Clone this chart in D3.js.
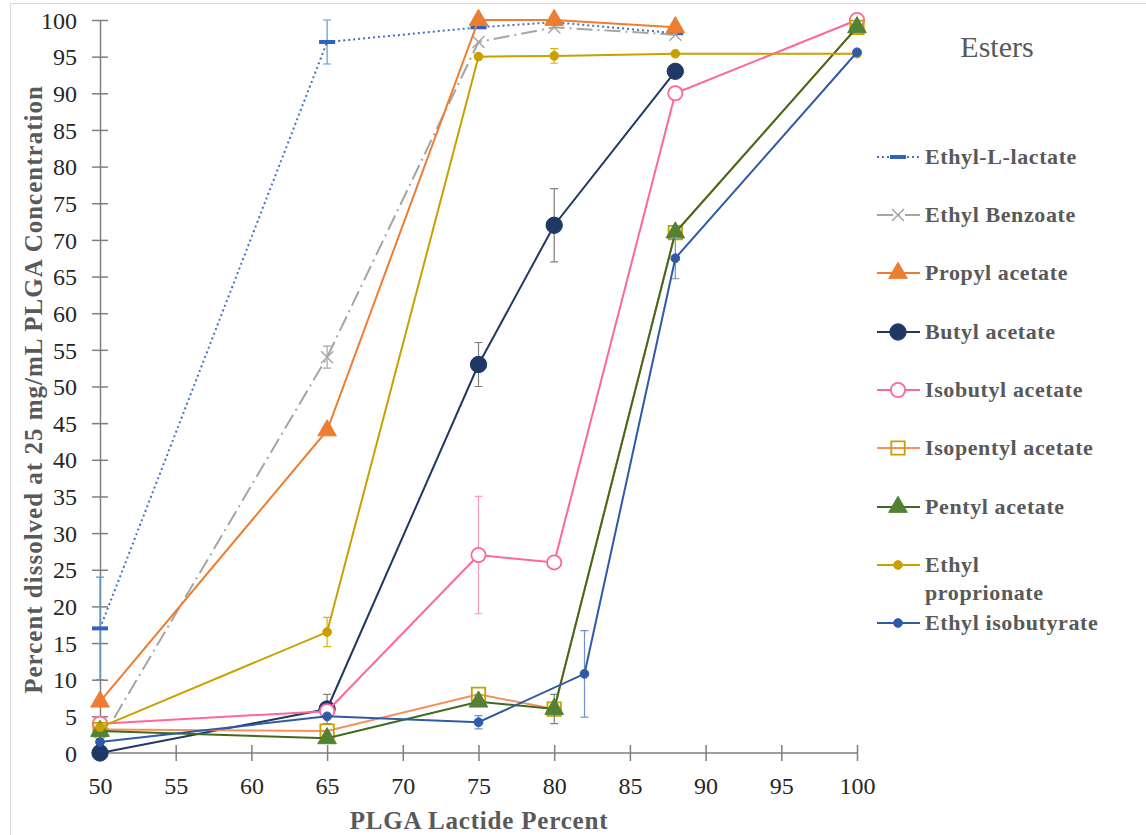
<!DOCTYPE html>
<html>
<head>
<meta charset="utf-8">
<script src="https://cdn.jsdelivr.net/npm/d3@7"></script>
<style>
  body { margin: 0; background: #fff; }
  svg { display: block; }
</style>
</head>
<body>
<div id="chart"></div>
<script>
// values
const seriesNames = ["Ethyl-L-lactate", "Ethyl Benzoate", "Propyl acetate", "Butyl acetate",
  "Isobutyl acetate", "Isopentyl acetate", "Pentyl acetate", "Ethyl proprionate", "Ethyl isobutyrate"];

const lactateX = [50, 65, 75, 80, 88];
const lactateY = [17, 97, 99, 99.7, 98.2];
const lactateErr = [7, 3, null, null, null];

const benzoateX = [50, 65, 75, 80, 88];
const benzoateY = [1.5, 54, 97, 99, 98];
const benzoateErr = [null, 1.5, null, null, null];

const propylX = [50, 65, 75, 80, 88];
const propylY = [7, 44, 100, 100, 99];
const propylErr = [null, null, null, 0.5, null];

const butylX = [50, 65, 75, 80, 88];
const butylY = [0, 6, 53, 72, 93];
const butylErr = [null, 2, 3, 5, null];

const isobutylX = [50, 65, 75, 80, 88, 100];
const isobutylY = [4, 5.7, 27, 26, 90, 100];
const isobutylErr = [1, null, 8, null, null, null];

const isopentylX = [50, 65, 75, 80, 88, 100];
const isopentylY = [3.2, 3, 8, 6, 71, 99];
const isopentylErr = [null, null, null, null, null, null];

const pentylX = [50, 65, 75, 80, 88, 100];
const pentylY = [3, 2, 7, 6, 71, 99];
const pentylErr = [null, null, null, 2, null, null];

const propionateX = [50, 65, 75, 80, 88, 100];
const propionateY = [3.5, 16.5, 95, 95.1, 95.4, 95.4];
const propionateErr = [null, 2, null, 1, null, null];

const isobutyrateX = [50, 65, 75, 82, 88, 100];
const isobutyrateY = [1.5, 5, 4.2, 10.8, 67.5, 95.6];
const isobutyrateErr = [null, null, 0.9, 5.9, 2.8, null];

const xTicks = [50, 55, 60, 65, 70, 75, 80, 85, 90, 95, 100];
const yTicks = d3.range(0, 101, 5);

// styles per series (kept apart from the data)
const styles = [
  {line: "#4472c4", dash: "2,3", marker: "dash", fill: "#3162c0", stroke: "#3162c0", err: "#5b9bd5"},
  {line: "#a5a5a5", dash: "16,5,2,5", marker: "x", fill: "none", stroke: "#a5a5a5", err: "#a5a5a5"},
  {line: "#ed7d31", dash: null, marker: "triangle", fill: "#ed7d31", stroke: "#ed7d31", err: "#4472c4", size: 150},
  {line: "#203864", dash: null, marker: "circle", fill: "#203864", stroke: "#203864", err: "#7f7f7f", size: 210},
  {line: "#ff6699", dash: null, marker: "circle", fill: "#fff", stroke: "#ff6699", err: "#ff99b8", size: 160, open: true},
  {line: "#f4915a", dash: null, marker: "square", fill: "none", stroke: "#c9a000", err: "#c9a000", size: 180},
  {line: "#3f6b1f", dash: null, marker: "triangle", fill: "#548235", stroke: "#548235", err: "#7f7f7f", size: 150},
  {line: "#c9a000", dash: null, marker: "circle", fill: "#c9a000", stroke: "#c9a000", err: "#e0b400", size: 60},
  {line: "#2f5aa8", dash: null, marker: "circle", fill: "#2f5aa8", stroke: "#2f5aa8", err: "#6f8fcf", size: 60}
];

const allX = [lactateX, benzoateX, propylX, butylX, isobutylX, isopentylX, pentylX, propionateX, isobutyrateX];
const allY = [lactateY, benzoateY, propylY, butylY, isobutylY, isopentylY, pentylY, propionateY, isobutyrateY];
const allErr = [lactateErr, benzoateErr, propylErr, butylErr, isobutylErr, isopentylErr, pentylErr, propionateErr, isobutyrateErr];

const series = seriesNames.map((name, i) => ({
  name,
  style: styles[i],
  points: allX[i].map((x, j) => ({x, y: allY[i][j], e: allErr[i][j]}))
}));

const width = 1146, height = 835;
const margin = {top: 20, right: 289, bottom: 82, left: 100};

const svg = d3.select("#chart").append("svg")
  .attr("width", width)
  .attr("height", height);

// light frame around the chart area
svg.append("rect")
  .attr("x", 10.5).attr("y", 3.5)
  .attr("width", 1150).attr("height", 860)
  .attr("fill", "none")
  .attr("stroke", "#d9d9d9");

const x = d3.scaleLinear().domain([50, 100]).range([margin.left, width - margin.right]);
const y = d3.scaleLinear().domain([0, 100]).range([height - margin.bottom, margin.top]);

const font = "'Liberation Serif', 'Times New Roman', serif";

// X axis (ticks cross the line)
const xAxis = svg.append("g")
  .attr("transform", `translate(0, ${y(0)})`)
  .call(d3.axisBottom(x).tickValues(xTicks).tickSize(8).tickPadding(16).tickSizeOuter(0));
xAxis.selectAll(".tick line").attr("y1", -8);
xAxis.select(".domain").attr("d", `M${x(50) - 8},0H${x(100)}`);

// Y axis
const yAxis = svg.append("g")
  .attr("transform", `translate(${x(50)}, 0)`)
  .call(d3.axisLeft(y).tickValues(yTicks).tickSize(8).tickPadding(15).tickSizeOuter(0));
yAxis.selectAll(".tick line").attr("x1", 8);

svg.selectAll(".domain, .tick line").attr("stroke", "#7f7f7f").attr("stroke-width", 1.5);
svg.selectAll(".tick text")
  .attr("font-family", font)
  .attr("font-size", 24)
  .attr("fill", "#262626");
yAxis.selectAll(".tick text").attr("dy", "0.34em");

// axis titles
svg.append("text")
  .attr("x", 479)
  .attr("y", 829)
  .attr("text-anchor", "middle")
  .attr("font-family", font)
  .attr("font-weight", "bold")
  .attr("font-size", 25)
  .attr("letter-spacing", 0.8)
  .attr("fill", "#595959")
  .text("PLGA Lactide Percent");

svg.append("text")
  .attr("transform", `translate(42, ${(y(0) + y(100)) / 2 + 3}) rotate(-90)`)
  .attr("text-anchor", "middle")
  .attr("font-family", font)
  .attr("font-weight", "bold")
  .attr("font-size", 25)
  .attr("letter-spacing", 1)
  .attr("fill", "#595959")
  .text("Percent dissolved at 25 mg/mL PLGA Concentration");

// marker helper
function drawMarker(g, st, cx, cy) {
  if (st.marker === "dash") {
    g.append("rect")
      .attr("x", cx - 8).attr("y", cy - 2)
      .attr("width", 16).attr("height", 4)
      .attr("fill", st.fill);
  } else if (st.marker === "x") {
    g.append("path")
      .attr("d", `M${cx - 6},${cy - 6}L${cx + 6},${cy + 6}M${cx - 6},${cy + 6}L${cx + 6},${cy - 6}`)
      .attr("stroke", st.stroke)
      .attr("stroke-width", 1.5);
  } else {
    const type = st.marker === "triangle" ? d3.symbolTriangle
      : st.marker === "square" ? d3.symbolSquare : d3.symbolCircle;
    g.append("path")
      .attr("transform", `translate(${cx}, ${cy})`)
      .attr("d", d3.symbol().type(type).size(st.size)())
      .attr("fill", st.fill)
      .attr("stroke", st.stroke)
      .attr("stroke-width", st.open || st.marker === "square" ? 1.8 : 1);
  }
}

const line = d3.line().x(d => x(d.x)).y(d => y(d.y));

series.forEach(s => {
  const g = svg.append("g");
  const st = s.style;

  // error bars
  s.points.filter(p => p.e != null).forEach(p => {
    const cx = x(p.x), top = y(Math.min(100, p.y + p.e)), bot = y(p.y - p.e);
    g.append("path")
      .attr("d", `M${cx},${top}V${bot}M${cx - 4},${top}H${cx + 4}M${cx - 4},${bot}H${cx + 4}`)
      .attr("fill", "none")
      .attr("stroke", st.err)
      .attr("stroke-width", 1.2);
  });

  g.append("path")
    .datum(s.points)
    .attr("d", line)
    .attr("fill", "none")
    .attr("stroke", st.line)
    .attr("stroke-width", 2)
    .attr("stroke-dasharray", st.dash);

  s.points.forEach(p => drawMarker(g, st, x(p.x), y(p.y)));
});

// legend
svg.append("text")
  .attr("x", 997)
  .attr("y", 57)
  .attr("text-anchor", "middle")
  .attr("font-family", font)
  .attr("font-size", 30)
  .attr("fill", "#595959")
  .text("Esters");

const legendY = [157, 215, 273, 332, 390, 448, 507, 565, 623];
series.forEach((s, i) => {
  const g = svg.append("g");
  const ly = legendY[i];
  g.append("line")
    .attr("x1", 877).attr("x2", 920)
    .attr("y1", ly).attr("y2", ly)
    .attr("stroke", s.style.line)
    .attr("stroke-width", 2)
    .attr("stroke-dasharray", s.style.dash);
  drawMarker(g, s.style, 898, ly);
  const words = s.name === "Ethyl proprionate" ? ["Ethyl", "proprionate"] : [s.name];
  const t = g.append("text")
    .attr("x", 925)
    .attr("y", ly + 7)
    .attr("font-family", font)
    .attr("font-weight", "bold")
    .attr("font-size", 22)
    .attr("letter-spacing", 0.6)
    .attr("fill", "#595959");
  words.forEach((w, k) => t.append("tspan").attr("x", 925).attr("dy", k ? 28 : 0).text(w));
});
</script>
</body>
</html>
